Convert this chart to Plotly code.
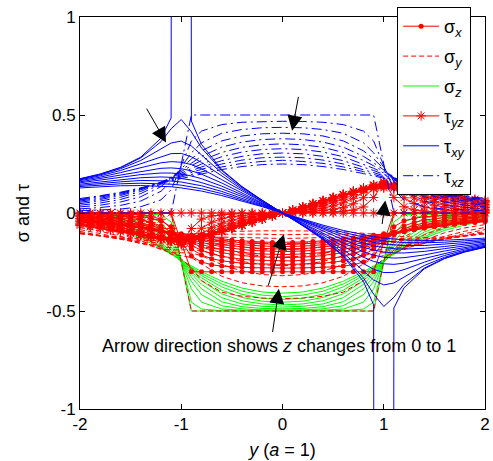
import plotly.graph_objects as go

# ---------------- data ----------------
# coarse y grid used by the plain-line series
y_pos = [-2.0, -1.8, -1.6, -1.4, -1.2, -1.1, -1.0, -0.9, -0.8, -0.6, -0.4, -0.2, 0.0,
         0.2, 0.4, 0.6, 0.8, 0.9, 1.0, 1.1, 1.2, 1.4, 1.6, 1.8, 2.0]
# fine y grid (step 0.1) used by the series drawn with markers
y_fine = [-2.0, -1.9, -1.8, -1.7, -1.6, -1.5, -1.4, -1.3, -1.2, -1.1, -1.0, -0.9, -0.8, -0.7,
          -0.6, -0.5, -0.4, -0.3, -0.2, -0.1, 0.0, 0.1, 0.2, 0.3, 0.4, 0.5, 0.6, 0.7, 0.8,
          0.9, 1.0, 1.1, 1.2, 1.3, 1.4, 1.5, 1.6, 1.7, 1.8, 1.9, 2.0]
z_levels = [0.0, 0.1, 0.2, 0.3, 0.4, 0.5, 0.6, 0.7, 0.8, 0.9, 1.0]

sigma_x = [
    [0, 0, 0, 0, 0, 0, 0, 0, 0, 0, -0.15, -0.3, -0.3, -0.3, -0.3, -0.3, -0.3, -0.3, -0.3, -0.3, -0.3,
     -0.3, -0.3, -0.3, -0.3, -0.3, -0.3, -0.3, -0.3, -0.3, -0.15, 0, 0, 0, 0, 0, 0, 0, 0, 0, 0],
    [-0.006, -0.007, -0.008, -0.010, -0.012, -0.015, -0.019, -0.027, -0.040, -0.070, -0.145, -0.220, -0.250, -0.264, -0.271, -0.275, -0.277, -0.279, -0.280, -0.281,
     -0.281, -0.281, -0.280, -0.279, -0.277, -0.275, -0.271, -0.264, -0.250, -0.220, -0.145, -0.070, -0.040, -0.027, -0.019, -0.015, -0.012, -0.010, -0.008, -0.007, -0.006],
    [-0.013, -0.014, -0.017, -0.020, -0.023, -0.029, -0.036, -0.048, -0.066, -0.097, -0.141, -0.184, -0.214, -0.233, -0.244, -0.251, -0.256, -0.259, -0.261, -0.262,
     -0.262, -0.262, -0.261, -0.259, -0.256, -0.251, -0.244, -0.233, -0.214, -0.184, -0.141, -0.097, -0.066, -0.048, -0.036, -0.029, -0.023, -0.020, -0.017, -0.014, -0.013],
    [-0.018, -0.021, -0.024, -0.028, -0.033, -0.040, -0.050, -0.063, -0.081, -0.106, -0.136, -0.166, -0.190, -0.208, -0.221, -0.230, -0.236, -0.240, -0.242, -0.244,
     -0.244, -0.244, -0.242, -0.240, -0.236, -0.230, -0.221, -0.208, -0.190, -0.166, -0.136, -0.106, -0.081, -0.063, -0.050, -0.040, -0.033, -0.028, -0.024, -0.021, -0.018],
    [-0.024, -0.027, -0.031, -0.036, -0.042, -0.049, -0.059, -0.072, -0.089, -0.109, -0.131, -0.154, -0.173, -0.189, -0.202, -0.211, -0.217, -0.222, -0.225, -0.227,
     -0.227, -0.227, -0.225, -0.222, -0.217, -0.211, -0.202, -0.189, -0.173, -0.154, -0.131, -0.109, -0.089, -0.072, -0.059, -0.049, -0.042, -0.036, -0.031, -0.027, -0.024],
    [-0.029, -0.032, -0.037, -0.042, -0.048, -0.056, -0.066, -0.078, -0.092, -0.109, -0.127, -0.144, -0.161, -0.174, -0.186, -0.194, -0.201, -0.206, -0.209, -0.211,
     -0.212, -0.211, -0.209, -0.206, -0.201, -0.194, -0.186, -0.174, -0.161, -0.144, -0.127, -0.109, -0.092, -0.078, -0.066, -0.056, -0.048, -0.042, -0.037, -0.032, -0.029],
    [-0.033, -0.037, -0.041, -0.047, -0.053, -0.061, -0.071, -0.081, -0.094, -0.108, -0.122, -0.137, -0.150, -0.162, -0.172, -0.180, -0.186, -0.191, -0.194, -0.196,
     -0.197, -0.196, -0.194, -0.191, -0.186, -0.180, -0.172, -0.162, -0.150, -0.137, -0.122, -0.108, -0.094, -0.081, -0.071, -0.061, -0.053, -0.047, -0.041, -0.037, -0.033],
    [-0.036, -0.041, -0.045, -0.051, -0.057, -0.065, -0.073, -0.083, -0.094, -0.106, -0.118, -0.130, -0.141, -0.151, -0.160, -0.168, -0.173, -0.178, -0.181, -0.183,
     -0.183, -0.183, -0.181, -0.178, -0.173, -0.168, -0.160, -0.151, -0.141, -0.130, -0.118, -0.106, -0.094, -0.083, -0.073, -0.065, -0.057, -0.051, -0.045, -0.041, -0.036],
    [-0.040, -0.044, -0.048, -0.054, -0.060, -0.068, -0.075, -0.084, -0.093, -0.103, -0.114, -0.124, -0.134, -0.142, -0.150, -0.157, -0.162, -0.166, -0.169, -0.171,
     -0.171, -0.171, -0.169, -0.166, -0.162, -0.157, -0.150, -0.142, -0.134, -0.124, -0.114, -0.103, -0.093, -0.084, -0.075, -0.068, -0.060, -0.054, -0.048, -0.044, -0.040],
    [-0.042, -0.046, -0.051, -0.056, -0.062, -0.069, -0.076, -0.084, -0.092, -0.101, -0.110, -0.118, -0.127, -0.134, -0.141, -0.147, -0.152, -0.155, -0.158, -0.160,
     -0.161, -0.160, -0.158, -0.155, -0.152, -0.147, -0.141, -0.134, -0.127, -0.118, -0.110, -0.101, -0.092, -0.084, -0.076, -0.069, -0.062, -0.056, -0.051, -0.046, -0.042],
    [-0.044, -0.048, -0.053, -0.058, -0.063, -0.069, -0.076, -0.083, -0.090, -0.098, -0.106, -0.113, -0.120, -0.127, -0.133, -0.138, -0.142, -0.146, -0.148, -0.150,
     -0.150, -0.150, -0.148, -0.146, -0.142, -0.138, -0.133, -0.127, -0.120, -0.113, -0.106, -0.098, -0.090, -0.083, -0.076, -0.069, -0.063, -0.058, -0.053, -0.048, -0.044],
]

tau_yz = [
    [0] * 41,
    [-0.001, -0.002, -0.002, -0.003, -0.004, -0.006, -0.009, -0.016, -0.032, -0.079, -0.159, -0.079, -0.031, -0.015, -0.009, -0.005, -0.003, -0.002, -0.001, -0.001,
     0, 0.001, 0.001, 0.002, 0.003, 0.005, 0.009, 0.015, 0.031, 0.079, 0.159, 0.079, 0.032, 0.016, 0.009, 0.006, 0.004, 0.003, 0.002, 0.002, 0.001],
    [-0.005, -0.007, -0.009, -0.011, -0.015, -0.021, -0.031, -0.048, -0.078, -0.126, -0.158, -0.126, -0.078, -0.047, -0.029, -0.019, -0.013, -0.008, -0.005, -0.002,
     0, 0.002, 0.005, 0.008, 0.013, 0.019, 0.029, 0.047, 0.078, 0.126, 0.158, 0.126, 0.078, 0.048, 0.031, 0.021, 0.015, 0.011, 0.009, 0.007, 0.005],
    [-0.012, -0.014, -0.018, -0.023, -0.030, -0.040, -0.055, -0.077, -0.107, -0.140, -0.156, -0.139, -0.106, -0.075, -0.052, -0.036, -0.025, -0.017, -0.010, -0.005,
     0, 0.005, 0.010, 0.017, 0.025, 0.036, 0.052, 0.075, 0.106, 0.139, 0.156, 0.140, 0.107, 0.077, 0.055, 0.040, 0.030, 0.023, 0.018, 0.014, 0.012],
    [-0.019, -0.023, -0.029, -0.036, -0.045, -0.058, -0.075, -0.097, -0.122, -0.144, -0.153, -0.143, -0.120, -0.094, -0.070, -0.052, -0.037, -0.025, -0.016, -0.008,
     0, 0.008, 0.016, 0.025, 0.037, 0.052, 0.070, 0.094, 0.120, 0.143, 0.153, 0.144, 0.122, 0.097, 0.075, 0.058, 0.045, 0.036, 0.029, 0.023, 0.019],
    [-0.028, -0.033, -0.040, -0.048, -0.060, -0.073, -0.091, -0.110, -0.129, -0.145, -0.150, -0.143, -0.126, -0.104, -0.083, -0.064, -0.047, -0.033, -0.021, -0.010,
     0, 0.010, 0.021, 0.033, 0.047, 0.064, 0.083, 0.104, 0.126, 0.143, 0.150, 0.145, 0.129, 0.110, 0.091, 0.073, 0.060, 0.048, 0.040, 0.033, 0.028],
    [-0.036, -0.042, -0.050, -0.060, -0.072, -0.085, -0.101, -0.117, -0.132, -0.143, -0.146, -0.141, -0.127, -0.110, -0.091, -0.072, -0.055, -0.039, -0.026, -0.012,
     0, 0.012, 0.026, 0.039, 0.055, 0.072, 0.091, 0.110, 0.127, 0.141, 0.146, 0.143, 0.132, 0.117, 0.101, 0.085, 0.072, 0.060, 0.050, 0.042, 0.036],
    [-0.044, -0.051, -0.060, -0.070, -0.081, -0.094, -0.108, -0.121, -0.133, -0.140, -0.142, -0.137, -0.126, -0.111, -0.094, -0.077, -0.060, -0.044, -0.029, -0.014,
     0, 0.014, 0.029, 0.044, 0.060, 0.077, 0.094, 0.111, 0.126, 0.137, 0.142, 0.140, 0.133, 0.121, 0.108, 0.094, 0.081, 0.070, 0.060, 0.051, 0.044],
    [-0.052, -0.059, -0.068, -0.077, -0.088, -0.100, -0.111, -0.122, -0.131, -0.137, -0.137, -0.133, -0.124, -0.111, -0.096, -0.079, -0.063, -0.046, -0.031, -0.015,
     0, 0.015, 0.031, 0.046, 0.063, 0.079, 0.096, 0.111, 0.124, 0.133, 0.137, 0.137, 0.131, 0.122, 0.111, 0.100, 0.088, 0.077, 0.068, 0.059, 0.052],
    [-0.058, -0.066, -0.074, -0.083, -0.093, -0.103, -0.113, -0.122, -0.129, -0.133, -0.132, -0.128, -0.120, -0.108, -0.095, -0.080, -0.064, -0.048, -0.032, -0.016,
     0, 0.016, 0.032, 0.048, 0.064, 0.080, 0.095, 0.108, 0.120, 0.128, 0.132, 0.133, 0.129, 0.122, 0.113, 0.103, 0.093, 0.083, 0.074, 0.066, 0.058],
    [-0.064, -0.071, -0.079, -0.088, -0.097, -0.105, -0.114, -0.121, -0.126, -0.128, -0.127, -0.123, -0.116, -0.105, -0.093, -0.078, -0.063, -0.048, -0.032, -0.016,
     0, 0.016, 0.032, 0.048, 0.063, 0.078, 0.093, 0.105, 0.116, 0.123, 0.127, 0.128, 0.126, 0.121, 0.114, 0.105, 0.097, 0.088, 0.079, 0.071, 0.064],
]

sigma_y = [
    [0, 0, 0, 0, 0, 0, -0.25, -0.5, -0.5, -0.5, -0.5, -0.5, -0.5, -0.5, -0.5, -0.5, -0.5, -0.5, -0.25, 0, 0, 0, 0, 0, 0],
    [-0.021, -0.028, -0.040, -0.063, -0.123, -0.190, -0.234, -0.279, -0.345, -0.404, -0.425, -0.434, -0.437, -0.434, -0.425, -0.404, -0.345, -0.279, -0.234, -0.190, -0.123, -0.063, -0.040, -0.028, -0.021],
    [-0.041, -0.054, -0.075, -0.111, -0.176, -0.210, -0.218, -0.227, -0.260, -0.323, -0.356, -0.372, -0.376, -0.372, -0.356, -0.323, -0.260, -0.227, -0.218, -0.210, -0.176, -0.111, -0.075, -0.054, -0.041],
    [-0.059, -0.076, -0.101, -0.140, -0.187, -0.202, -0.203, -0.204, -0.218, -0.263, -0.296, -0.314, -0.320, -0.314, -0.296, -0.263, -0.218, -0.204, -0.203, -0.202, -0.187, -0.140, -0.101, -0.076, -0.059],
    [-0.074, -0.093, -0.119, -0.153, -0.183, -0.189, -0.188, -0.187, -0.192, -0.219, -0.247, -0.264, -0.269, -0.264, -0.247, -0.219, -0.192, -0.187, -0.188, -0.189, -0.183, -0.153, -0.119, -0.093, -0.074],
    [-0.085, -0.105, -0.129, -0.156, -0.174, -0.176, -0.174, -0.171, -0.172, -0.186, -0.206, -0.220, -0.225, -0.220, -0.206, -0.186, -0.172, -0.171, -0.174, -0.176, -0.174, -0.156, -0.129, -0.105, -0.085],
    [-0.094, -0.113, -0.134, -0.154, -0.164, -0.163, -0.160, -0.156, -0.155, -0.161, -0.173, -0.184, -0.188, -0.184, -0.173, -0.161, -0.155, -0.156, -0.160, -0.163, -0.164, -0.154, -0.134, -0.113, -0.094],
    [-0.100, -0.117, -0.134, -0.148, -0.153, -0.151, -0.147, -0.143, -0.140, -0.140, -0.147, -0.154, -0.156, -0.154, -0.147, -0.140, -0.140, -0.143, -0.147, -0.151, -0.153, -0.148, -0.134, -0.117, -0.100],
    [-0.104, -0.118, -0.132, -0.141, -0.142, -0.139, -0.135, -0.130, -0.126, -0.123, -0.125, -0.128, -0.130, -0.128, -0.125, -0.123, -0.126, -0.130, -0.135, -0.139, -0.142, -0.141, -0.132, -0.118, -0.104],
    [-0.105, -0.118, -0.128, -0.133, -0.131, -0.128, -0.124, -0.118, -0.114, -0.108, -0.107, -0.108, -0.111, -0.108, -0.107, -0.108, -0.114, -0.118, -0.124, -0.128, -0.131, -0.133, -0.128, -0.118, -0.105],
    [-0.106, -0.115, -0.123, -0.125, -0.121, -0.117, -0.113, -0.107, -0.103, -0.095, -0.092, -0.091, -0.091, -0.091, -0.092, -0.095, -0.103, -0.107, -0.113, -0.117, -0.121, -0.125, -0.123, -0.115, -0.106],
]

sigma_z = [
    [0, 0, 0, 0, 0, 0, -0.25, -0.5, -0.5, -0.5, -0.5, -0.5, -0.5, -0.5, -0.5, -0.5, -0.5, -0.5, -0.25, 0, 0, 0, 0, 0, 0],
    [0.000, 0.000, -0.001, -0.002, -0.010, -0.045, -0.250, -0.455, -0.490, -0.499, -0.500, -0.500, -0.500, -0.500, -0.500, -0.499, -0.490, -0.455, -0.250, -0.045, -0.010, -0.002, -0.001, 0.000, 0.000],
    [-0.001, -0.002, -0.003, -0.010, -0.045, -0.113, -0.250, -0.387, -0.455, -0.490, -0.496, -0.498, -0.499, -0.498, -0.496, -0.490, -0.455, -0.387, -0.250, -0.113, -0.045, -0.010, -0.003, -0.002, -0.001],
    [-0.002, -0.005, -0.010, -0.026, -0.083, -0.151, -0.250, -0.349, -0.417, -0.473, -0.489, -0.494, -0.495, -0.494, -0.489, -0.473, -0.417, -0.349, -0.250, -0.151, -0.083, -0.026, -0.010, -0.005, -0.002],
    [-0.005, -0.010, -0.020, -0.045, -0.112, -0.173, -0.249, -0.326, -0.387, -0.453, -0.478, -0.487, -0.489, -0.487, -0.478, -0.453, -0.387, -0.326, -0.249, -0.173, -0.112, -0.045, -0.020, -0.010, -0.005],
    [-0.010, -0.017, -0.032, -0.064, -0.133, -0.187, -0.249, -0.310, -0.364, -0.432, -0.464, -0.476, -0.480, -0.476, -0.464, -0.432, -0.364, -0.310, -0.249, -0.187, -0.133, -0.064, -0.032, -0.017, -0.010],
    [-0.015, -0.025, -0.044, -0.081, -0.149, -0.196, -0.248, -0.299, -0.346, -0.412, -0.448, -0.464, -0.469, -0.464, -0.448, -0.412, -0.346, -0.299, -0.248, -0.196, -0.149, -0.081, -0.044, -0.025, -0.015],
    [-0.021, -0.034, -0.057, -0.097, -0.161, -0.202, -0.246, -0.290, -0.331, -0.394, -0.431, -0.450, -0.455, -0.450, -0.431, -0.394, -0.331, -0.290, -0.246, -0.202, -0.161, -0.097, -0.057, -0.034, -0.021],
    [-0.028, -0.043, -0.068, -0.109, -0.169, -0.206, -0.244, -0.283, -0.319, -0.377, -0.415, -0.435, -0.441, -0.435, -0.415, -0.377, -0.319, -0.283, -0.244, -0.206, -0.169, -0.109, -0.068, -0.043, -0.028],
    [-0.034, -0.052, -0.079, -0.120, -0.176, -0.208, -0.243, -0.276, -0.309, -0.362, -0.399, -0.419, -0.427, -0.419, -0.399, -0.362, -0.309, -0.276, -0.243, -0.208, -0.176, -0.120, -0.079, -0.052, -0.034],
    [-0.042, -0.061, -0.089, -0.128, -0.180, -0.210, -0.240, -0.270, -0.299, -0.348, -0.383, -0.403, -0.409, -0.403, -0.383, -0.348, -0.299, -0.270, -0.240, -0.210, -0.180, -0.128, -0.089, -0.061, -0.042],
]

# +/-50 stand in for the infinite surface value at the load edges (z = 0)
tau_xy = [
    [0.175, 0.199, 0.233, 0.285, 0.382, 0.485, 50, 0.469, 0.350, 0.221, 0.135, 0.065, 0, -0.065, -0.135, -0.221, -0.350, -0.469, -50, -0.485, -0.382, -0.285, -0.233, -0.199, -0.175],
    [0.174, 0.198, 0.231, 0.281, 0.364, 0.430, 0.477, 0.414, 0.332, 0.216, 0.133, 0.064, 0, -0.064, -0.133, -0.216, -0.332, -0.414, -0.477, -0.430, -0.364, -0.281, -0.231, -0.198, -0.174],
    [0.172, 0.195, 0.226, 0.268, 0.327, 0.357, 0.367, 0.342, 0.296, 0.204, 0.128, 0.062, 0, -0.062, -0.128, -0.204, -0.296, -0.342, -0.367, -0.357, -0.327, -0.268, -0.226, -0.195, -0.172],
    [0.169, 0.190, 0.217, 0.251, 0.289, 0.303, 0.304, 0.287, 0.258, 0.188, 0.121, 0.059, 0, -0.059, -0.121, -0.188, -0.258, -0.287, -0.304, -0.303, -0.289, -0.251, -0.217, -0.190, -0.169],
    [0.165, 0.183, 0.206, 0.232, 0.256, 0.262, 0.259, 0.247, 0.226, 0.170, 0.112, 0.055, 0, -0.055, -0.112, -0.170, -0.226, -0.247, -0.259, -0.262, -0.256, -0.232, -0.206, -0.183, -0.165],
    [0.159, 0.176, 0.194, 0.214, 0.228, 0.230, 0.226, 0.215, 0.198, 0.153, 0.103, 0.051, 0, -0.051, -0.103, -0.153, -0.198, -0.215, -0.226, -0.230, -0.228, -0.214, -0.194, -0.176, -0.159],
    [0.154, 0.168, 0.182, 0.196, 0.204, 0.204, 0.199, 0.189, 0.175, 0.137, 0.093, 0.047, 0, -0.047, -0.093, -0.137, -0.175, -0.189, -0.199, -0.204, -0.204, -0.196, -0.182, -0.168, -0.154],
    [0.147, 0.159, 0.171, 0.180, 0.184, 0.182, 0.176, 0.168, 0.155, 0.123, 0.084, 0.043, 0, -0.043, -0.084, -0.123, -0.155, -0.168, -0.176, -0.182, -0.184, -0.180, -0.171, -0.159, -0.147],
    [0.141, 0.151, 0.159, 0.166, 0.166, 0.163, 0.158, 0.150, 0.139, 0.110, 0.076, 0.039, 0, -0.039, -0.076, -0.110, -0.139, -0.150, -0.158, -0.163, -0.166, -0.166, -0.159, -0.151, -0.141],
    [0.135, 0.142, 0.149, 0.152, 0.151, 0.147, 0.142, 0.134, 0.124, 0.099, 0.069, 0.035, 0, -0.035, -0.069, -0.099, -0.124, -0.134, -0.142, -0.147, -0.151, -0.152, -0.149, -0.142, -0.135],
    [0.128, 0.134, 0.139, 0.140, 0.137, 0.134, 0.128, 0.121, 0.112, 0.089, 0.062, 0.032, 0, -0.032, -0.062, -0.089, -0.112, -0.121, -0.128, -0.134, -0.137, -0.140, -0.139, -0.134, -0.128],
]

tau_xz = [
    [0, 0, 0, 0, 0, 0, 0.25, 0.5, 0.5, 0.5, 0.5, 0.5, 0.5, 0.5, 0.5, 0.5, 0.5, 0.5, 0.25, 0, 0, 0, 0, 0, 0],
    [0.011, 0.014, 0.020, 0.032, 0.067, 0.118, 0.242, 0.367, 0.418, 0.451, 0.463, 0.467, 0.468, 0.467, 0.463, 0.451, 0.418, 0.367, 0.242, 0.118, 0.067, 0.032, 0.020, 0.014, 0.011],
    [0.021, 0.028, 0.039, 0.061, 0.111, 0.161, 0.234, 0.307, 0.358, 0.407, 0.426, 0.435, 0.437, 0.435, 0.426, 0.407, 0.358, 0.307, 0.234, 0.161, 0.111, 0.061, 0.039, 0.028, 0.021],
    [0.031, 0.040, 0.056, 0.083, 0.135, 0.176, 0.226, 0.276, 0.317, 0.368, 0.393, 0.404, 0.407, 0.404, 0.393, 0.368, 0.317, 0.276, 0.226, 0.176, 0.135, 0.083, 0.056, 0.040, 0.031],
    [0.040, 0.051, 0.069, 0.099, 0.148, 0.181, 0.219, 0.256, 0.289, 0.336, 0.362, 0.375, 0.379, 0.375, 0.362, 0.336, 0.289, 0.256, 0.219, 0.181, 0.148, 0.099, 0.069, 0.051, 0.040],
    [0.048, 0.061, 0.080, 0.110, 0.154, 0.181, 0.211, 0.241, 0.268, 0.309, 0.335, 0.348, 0.353, 0.348, 0.335, 0.309, 0.268, 0.241, 0.211, 0.181, 0.154, 0.110, 0.080, 0.061, 0.048],
    [0.055, 0.069, 0.089, 0.118, 0.157, 0.180, 0.204, 0.228, 0.250, 0.287, 0.311, 0.324, 0.328, 0.324, 0.311, 0.287, 0.250, 0.228, 0.204, 0.180, 0.157, 0.118, 0.089, 0.069, 0.055],
    [0.061, 0.075, 0.095, 0.122, 0.157, 0.176, 0.197, 0.217, 0.235, 0.267, 0.289, 0.302, 0.306, 0.302, 0.289, 0.267, 0.235, 0.217, 0.197, 0.176, 0.157, 0.122, 0.095, 0.075, 0.061],
    [0.066, 0.081, 0.100, 0.125, 0.156, 0.172, 0.190, 0.206, 0.223, 0.250, 0.270, 0.282, 0.285, 0.282, 0.270, 0.250, 0.223, 0.206, 0.190, 0.172, 0.156, 0.125, 0.100, 0.081, 0.066],
    [0.069, 0.085, 0.103, 0.126, 0.153, 0.168, 0.184, 0.197, 0.211, 0.235, 0.253, 0.263, 0.269, 0.263, 0.253, 0.235, 0.211, 0.197, 0.184, 0.168, 0.153, 0.126, 0.103, 0.085, 0.069],
    [0.074, 0.088, 0.106, 0.127, 0.151, 0.164, 0.176, 0.189, 0.201, 0.222, 0.237, 0.247, 0.250, 0.247, 0.237, 0.222, 0.201, 0.189, 0.176, 0.164, 0.151, 0.127, 0.106, 0.088, 0.074],
]

x_ticks = [-2, -1, 0, 1, 2]
x_tick_text = ["-2", "-1", "0", "1", "2"]
y_ticks = [-1, -0.5, 0, 0.5, 1]
y_tick_text = ["-1", "-0.5", "0", "0.5", "1"]

# ---------------- figure ----------------
FONT = "Arial, 'Liberation Sans', sans-serif"
RED, GREEN, BLUE = "#ff0000", "#00ff00", "#0000ff"

families = [
    # (x grid, data, legend name, legend rank, colour, dash, mode, marker)
    (y_pos, sigma_z, "σ<sub><i>z</i></sub>", 3, GREEN, "solid", "lines", None),
    (y_fine, sigma_x, "σ<sub><i>x</i></sub>", 1, RED, "solid", "lines+markers",
     dict(symbol="circle", size=5, color=RED)),
    (y_pos, sigma_y, "σ<sub><i>y</i></sub>", 2, RED, "5px,3px", "lines", None),
    (y_fine, tau_yz, "τ<sub><i>yz</i></sub>", 4, RED, "solid", "lines+markers",
     dict(symbol="asterisk-open", size=8, color=RED, line=dict(color=RED, width=1))),
    (y_pos, tau_xy, "τ<sub><i>xy</i></sub>", 5, BLUE, "solid", "lines", None),
    (y_pos, tau_xz, "τ<sub><i>xz</i></sub>", 6, BLUE, "10px,4px,2px,4px", "lines", None),
]

fig = go.Figure()
for xs, data, name, rank, color, dash, mode, marker in families:
    for i, row in enumerate(data):
        kw = dict(
            x=xs, y=row, mode=mode, name=name,
            legendgroup=name, legendrank=rank, showlegend=(i == 0),
            line=dict(color=color, width=1, dash=dash),
            hoverinfo="skip",
        )
        if marker is not None:
            kw["marker"] = marker
            kw["cliponaxis"] = False
        fig.add_trace(go.Scatter(**kw))

# arrows: (head_x, head_y, tail_x, tail_y)
arrows = [
    (-1.15, 0.36, -1.35, 0.54),
    (0.095, 0.42, 0.16, 0.60),
    (1.015, 0.064, 0.982, -0.064),
    (0.013, -0.109, -0.145, -0.378),
    (-0.036, -0.386, -0.10, -0.615),
]
for hx, hy, tx, ty in arrows:
    fig.add_annotation(x=hx, y=hy, ax=tx, ay=ty, xref="x", yref="y",
                       axref="x", ayref="y", text="", showarrow=True,
                       arrowhead=2, arrowsize=3, arrowwidth=1, arrowcolor="black")

fig.add_annotation(x=-0.03, y=-0.68, xref="x", yref="y", showarrow=False,
                   text="Arrow direction shows <i>z</i> changes from 0 to 1",
                   font=dict(family=FONT, size=18, color="black"))

axis_common = dict(
    showline=True, linecolor="black", linewidth=1, mirror="ticks",
    ticks="inside", ticklen=5, tickcolor="black", tickwidth=1,
    showgrid=False, zeroline=False, automargin=False,
    tickfont=dict(family=FONT, size=17, color="black"),
)

fig.update_layout(
    width=493, height=461,
    margin=dict(l=80, r=8, t=17, b=52, autoexpand=False),
    paper_bgcolor="white", plot_bgcolor="white",
    font=dict(family=FONT, color="black"),
    xaxis=dict(range=[-2, 2], tickvals=x_ticks, ticktext=x_tick_text,
               title=dict(text="<i>y</i> (<i>a</i> = 1)", font=dict(family=FONT, size=18),
                          standoff=9),
               **axis_common),
    yaxis=dict(range=[-1, 1], tickvals=y_ticks, ticktext=y_tick_text,
               title=dict(text="σ and τ", font=dict(family=FONT, size=18), standoff=12),
               **axis_common),
    legend=dict(x=0.783, y=1.0255, xanchor="left", yanchor="top",
                bgcolor="white", bordercolor="black", borderwidth=1,
                font=dict(family=FONT, size=18, color="black"),
                itemwidth=36, tracegroupgap=3.5, traceorder="grouped"),
    showlegend=True,
)

fig.write_html("out.html",
               config={"displayModeBar": False},
               post_script="document.body.style.margin='0px';document.body.style.overflow='hidden';")
